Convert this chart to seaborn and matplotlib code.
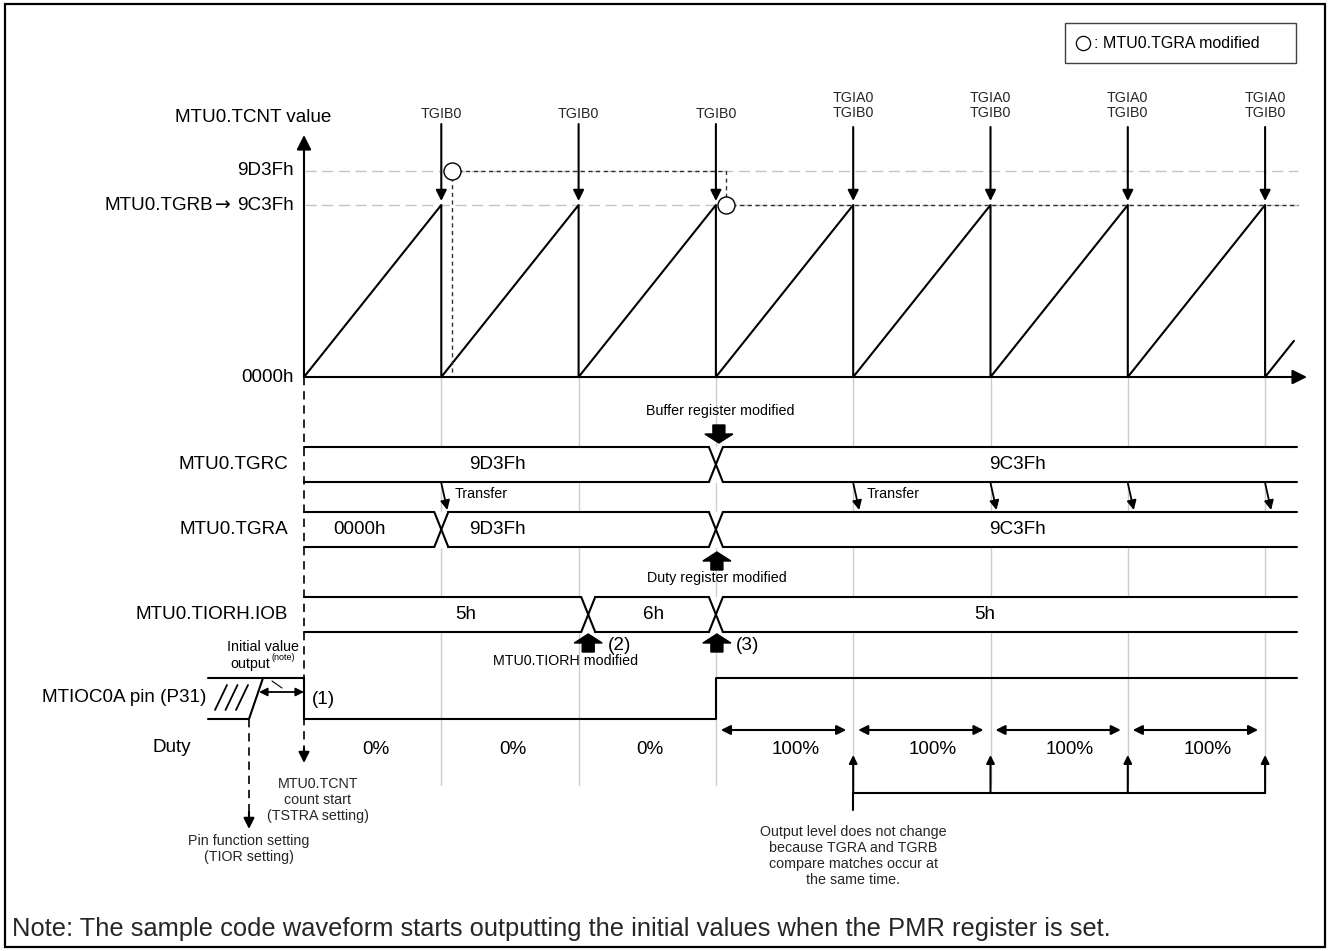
import numpy as np
import pandas as pd
import matplotlib
matplotlib.use("Agg")
import matplotlib.pyplot as plt
import seaborn as sns
from matplotlib import font_manager
from matplotlib.patches import Rectangle, Polygon

# ---- chart data ----
resets = [1, 2, 3, 4, 5, 6, 7]          # TGRB compare match (timer periods)
irq_labels = ['TGIB0', 'TGIB0', 'TGIB0',
              'TGIA0\nTGIB0', 'TGIA0\nTGIB0', 'TGIA0\nTGIB0', 'TGIA0\nTGIB0']
end_time = 7.21
tgrb_level = 1.0          # 9C3Fh
tgra_new_level = 1.198    # 9D3Fh (drawn a little above)
circles_t = [1.075, 3.07]
circles_lv = [1.198, 1.0]

tgrc_vals = ['9D3Fh', '9C3Fh']
tgrc_edges = [3]
tgra_vals = ['0000h', '9D3Fh', '9C3Fh']
tgra_edges = [1, 3]
iob_vals = ['5h', '6h', '5h']
iob_edges = [2.07, 3]
transfer_at = [1, 4, 5, 6, 7]
pin_edges = [0, 3]
pin_levels = [0, 1]
duty_vals = ['0%', '0%', '0%', '100%', '100%', '100%', '100%']

# ---- layout (pixels) ----
X0, P = 304, 137.3
Y0, H = 377, 172
XEND = 1297


def tx(t):
    return X0 + P * t


def ty(lv):
    return Y0 - H * lv


sns.set_theme(style='white')
names = {f.name for f in font_manager.fontManager.ttflist}
narrow = 'Liberation Sans Narrow' if 'Liberation Sans Narrow' in names else 'Liberation Sans'
plt.rcParams['font.family'] = ['Liberation Sans', 'DejaVu Sans']
MAIN, SMALL, NOTE = 13.6, 10.3, 18.4

fig = plt.figure(figsize=(13.28, 9.51), dpi=100)
ax = fig.add_axes([0, 0, 1, 1])


def arrow(x1, y1, x2, y2, style='-|>', ms=14, lw=1.5):
    ax.annotate('', xy=(x2, y2), xytext=(x1, y1),
                arrowprops=dict(arrowstyle=style, color='black', lw=lw,
                                mutation_scale=ms, shrinkA=0, shrinkB=0), zorder=5)


def block_arrow(xc, ytip, up):
    s = -1 if up else 1
    L, hl, sw, hw = 18, 9, 6, 14
    pts = [(xc - sw, ytip - s * L), (xc + sw, ytip - s * L), (xc + sw, ytip - s * hl),
           (xc + hw, ytip - s * hl), (xc, ytip), (xc - hw, ytip - s * hl), (xc - sw, ytip - s * hl)]
    ax.add_patch(Polygon(pts, closed=True, color='black', zorder=6))


def txt(x, y, s, size=MAIN, ha='center', **kw):
    ax.text(x, y, s, fontsize=size, ha=ha, va='center', color='black', zorder=7, **kw)


# ---- counter sawtooth ----
sx, sy = [tx(0)], [ty(0)]
for r in resets:
    sx += [tx(r), tx(r)]
    sy += [ty(tgrb_level), ty(0)]
sx.append(tx(end_time))
sy.append(ty(end_time - resets[-1]))
saw = pd.DataFrame({'x': sx, 'y': sy})
sns.lineplot(data=saw, x='x', y='y', sort=False, estimator=None, color='black', lw=1.5, ax=ax)

# grey reference levels
for lv in [tgra_new_level, tgrb_level]:
    ax.plot([X0 + 1, 1298], [ty(lv), ty(lv)], color='#c4c4c4', lw=1.0, dashes=(8, 4), zorder=1)

# axes arrows
arrow(X0, Y0, X0, 135, ms=22)
arrow(X0, Y0, 1307, Y0, ms=22)
txt(253, 118, 'MTU0.TCNT value')
txt(294, ty(tgra_new_level), '9D3Fh', ha='right')
txt(294, ty(tgrb_level), '9C3Fh', ha='right')
txt(223, ty(tgrb_level), '\u2192', family=['DejaVu Sans'])
txt(213, ty(tgrb_level), 'MTU0.TGRB', ha='right')
txt(294, Y0, '0000h', ha='right')

# interrupt arrows
for r, lab in zip(resets, irq_labels):
    two = '\n' in lab
    arrow(tx(r), 127 if two else 124, tx(r), 201, ms=16)
    ax.text(tx(r), 105.5 if two else 114, lab, fontsize=SMALL, ha='center', va='center',
            linespacing=1.15, zorder=7)

# TGRA modified marks and dashed guides
c1x, c1y = tx(circles_t[0]), ty(circles_lv[0])
c2x, c2y = tx(circles_t[1]), ty(circles_lv[1])
dk = dict(color='#303030', lw=1.0, dashes=(3, 2.5), zorder=3)
ax.plot([c1x, c1x], [c1y + 6, Y0], **dk)
ax.plot([c1x + 6, c2x, c2x], [c1y, c1y, c2y - 6], **dk)
ax.plot([c2x + 6, 1298], [c2y, c2y], **dk)
marks = pd.DataFrame({'x': [c1x, c2x], 'y': [c1y, c2y]})
sns.scatterplot(data=marks, x='x', y='y', s=150, marker='o', facecolor='white',
                edgecolor='black', linewidth=1.0, zorder=6, ax=ax)

# legend box
ax.add_patch(Rectangle((1065, 23), 231, 40, fill=False, edgecolor='#404040', lw=1.0, zorder=5))
ax.scatter([1083], [43], s=105, marker='o', facecolor='white', edgecolor='black', linewidth=0.9, zorder=6)
txt(1094, 43, ': MTU0.TGRA modified', size=SMALL + 1.2, ha='left')

# grey period lines
for r in resets:
    ax.plot([tx(r), tx(r)], [Y0, 785], color='#cccccc', lw=1.0, zorder=1)

# ---- register bands ----
def band(yt, yb, edges, vals, label, val_x):
    w = 7
    ax.add_patch(Rectangle((X0, yt), XEND - X0, yb - yt, color='white', zorder=2))
    xs = [X0] + [tx(e) for e in edges] + [XEND]
    for i in range(len(xs) - 1):
        a = xs[i] + (w if i > 0 else 0)
        b = xs[i + 1] - (w if i + 1 < len(xs) - 1 else 0)
        for yy in (yt, yb):
            ax.plot([a, b], [yy, yy], color='black', lw=1.5, zorder=4)
    for e in edges:
        ax.plot([tx(e) - w, tx(e) + w], [yt, yb], color='black', lw=1.5, zorder=4)
        ax.plot([tx(e) - w, tx(e) + w], [yb, yt], color='black', lw=1.5, zorder=4)
    ym = (yt + yb) / 2
    txt(288, ym, label, ha='right')
    for v, xv in zip(vals, val_x):
        txt(xv, ym, v)


band(447, 482, tgrc_edges, tgrc_vals, 'MTU0.TGRC', [497, 1018])
band(512, 547, tgra_edges, tgra_vals, 'MTU0.TGRA', [359, 497, 1018])
band(597, 632, iob_edges, iob_vals, 'MTU0.TIORH.IOB', [466, 654, 985])

for i, r in enumerate(transfer_at):
    arrow(tx(r), 483, tx(r) + 6, 510, ms=14, lw=1.3)
    if i < 2:
        txt(tx(r) + 13, 494, 'Transfer', size=SMALL, ha='left')

block_arrow(tx(3) + 3, 443, up=False)
txt(720, 411, 'Buffer register modified', size=SMALL)
block_arrow(tx(3) + 1, 552, up=True)
txt(717, 578, 'Duty register modified', size=SMALL)
block_arrow(tx(iob_edges[0]), 634, up=True)
txt(620, 646, '(2)')
txt(566, 661, 'MTU0.TIORH modified', size=SMALL)
block_arrow(tx(3) + 1, 634, up=True)
txt(748, 646, '(3)')

# ---- MTIOC0A pin ----
PH, PL = 678, 719
px_, py_ = [], []
for i, (e, lv) in enumerate(zip(pin_edges, pin_levels)):
    yv = PH if lv else PL
    if i == 0:
        px_ += [tx(e), tx(e)]
        py_ += [PH, yv]
    else:
        px_ += [tx(e), tx(e)]
        py_ += [py_[-1], yv]
px_.append(XEND)
py_.append(py_[-1])
pin = pd.DataFrame({'x': px_, 'y': py_})
sns.lineplot(data=pin, x='x', y='y', sort=False, estimator=None, color='black', lw=1.5, ax=ax)
ax.plot([208, X0], [PH, PH], color='black', lw=1.5)
ax.plot([208, 249, 263], [PL, PL, PH], color='black', lw=1.5)
for k in range(3):
    ax.plot([215 + 10.5 * k, 227 + 10.5 * k], [710, 685], color='black', lw=1.3)
arrow(259, 692, X0, 692, style='<|-|>', ms=12, lw=1.3)
ax.plot([272, 282], [681, 688], color='black', lw=0.8)
txt(263, 647, 'Initial value', size=SMALL)
txt(270, 664, 'output', size=SMALL, ha='right')
txt(271, 657, '(note)', size=6.5, ha='left')
txt(206, 697, 'MTIOC0A pin (P31)', ha='right')
txt(323, 699, '(1)')

# start / pin function dashed arrows
ax.plot([X0, X0], [Y0, 752], color='black', lw=1.2, dashes=(5, 3.5), zorder=5)
arrow(X0, 748, X0, 763, ms=16)
ax.plot([249, 249], [PL, 816], color='black', lw=1.2, dashes=(5, 3.5), zorder=5)
arrow(249, 812, 249, 829, ms=16)
ax.text(318, 800, 'MTU0.TCNT\ncount start\n(TSTRA setting)', fontsize=SMALL, ha='center',
        va='center', linespacing=1.2)
ax.text(249, 849, 'Pin function setting\n(TIOR setting)', fontsize=SMALL, ha='center',
        va='center', linespacing=1.2)

# ---- duty ----
txt(172, 747, 'Duty')
bounds = [0] + resets
for k, v in enumerate(duty_vals):
    mid = (tx(bounds[k]) + tx(bounds[k + 1])) / 2
    if v == '100%':
        arrow(tx(bounds[k]) + 5, 730, tx(bounds[k + 1]) - 7, 730, style='<|-|>', ms=14, lw=1.5)
        txt(mid + 11, 750, v)
    else:
        txt(mid + 3, 750, v)

same = [r for r, v in zip(resets, duty_vals[1:] + ['100%']) if r >= 4]
for r in same:
    arrow(tx(r), 793, tx(r), 755, ms=12, lw=1.5)
ax.plot([tx(same[0]), tx(same[-1])], [793, 793], color='black', lw=1.5)
ax.plot([tx(same[0]), tx(same[0])], [793, 810], color='black', lw=1.5)
ax.text(tx(same[0]), 856,
        'Output level does not change\nbecause TGRA and TGRB\ncompare matches occur at\nthe same time.',
        fontsize=SMALL, family=[narrow, 'DejaVu Sans'], ha='center', va='center', linespacing=1.2)

ax.text(12, 929, 'Note: The sample code waveform starts outputting the initial values when the PMR register is set.',
        fontsize=NOTE, ha='left', va='center')

# frame
ax.add_patch(Rectangle((5, 4), 1320, 943, fill=False, edgecolor='black', lw=1.6, zorder=8))

ax.set_xlim(0, 1328)
ax.set_ylim(951, 0)
ax.axis('off')
fig.savefig('out.png', dpi=100, facecolor='white')
